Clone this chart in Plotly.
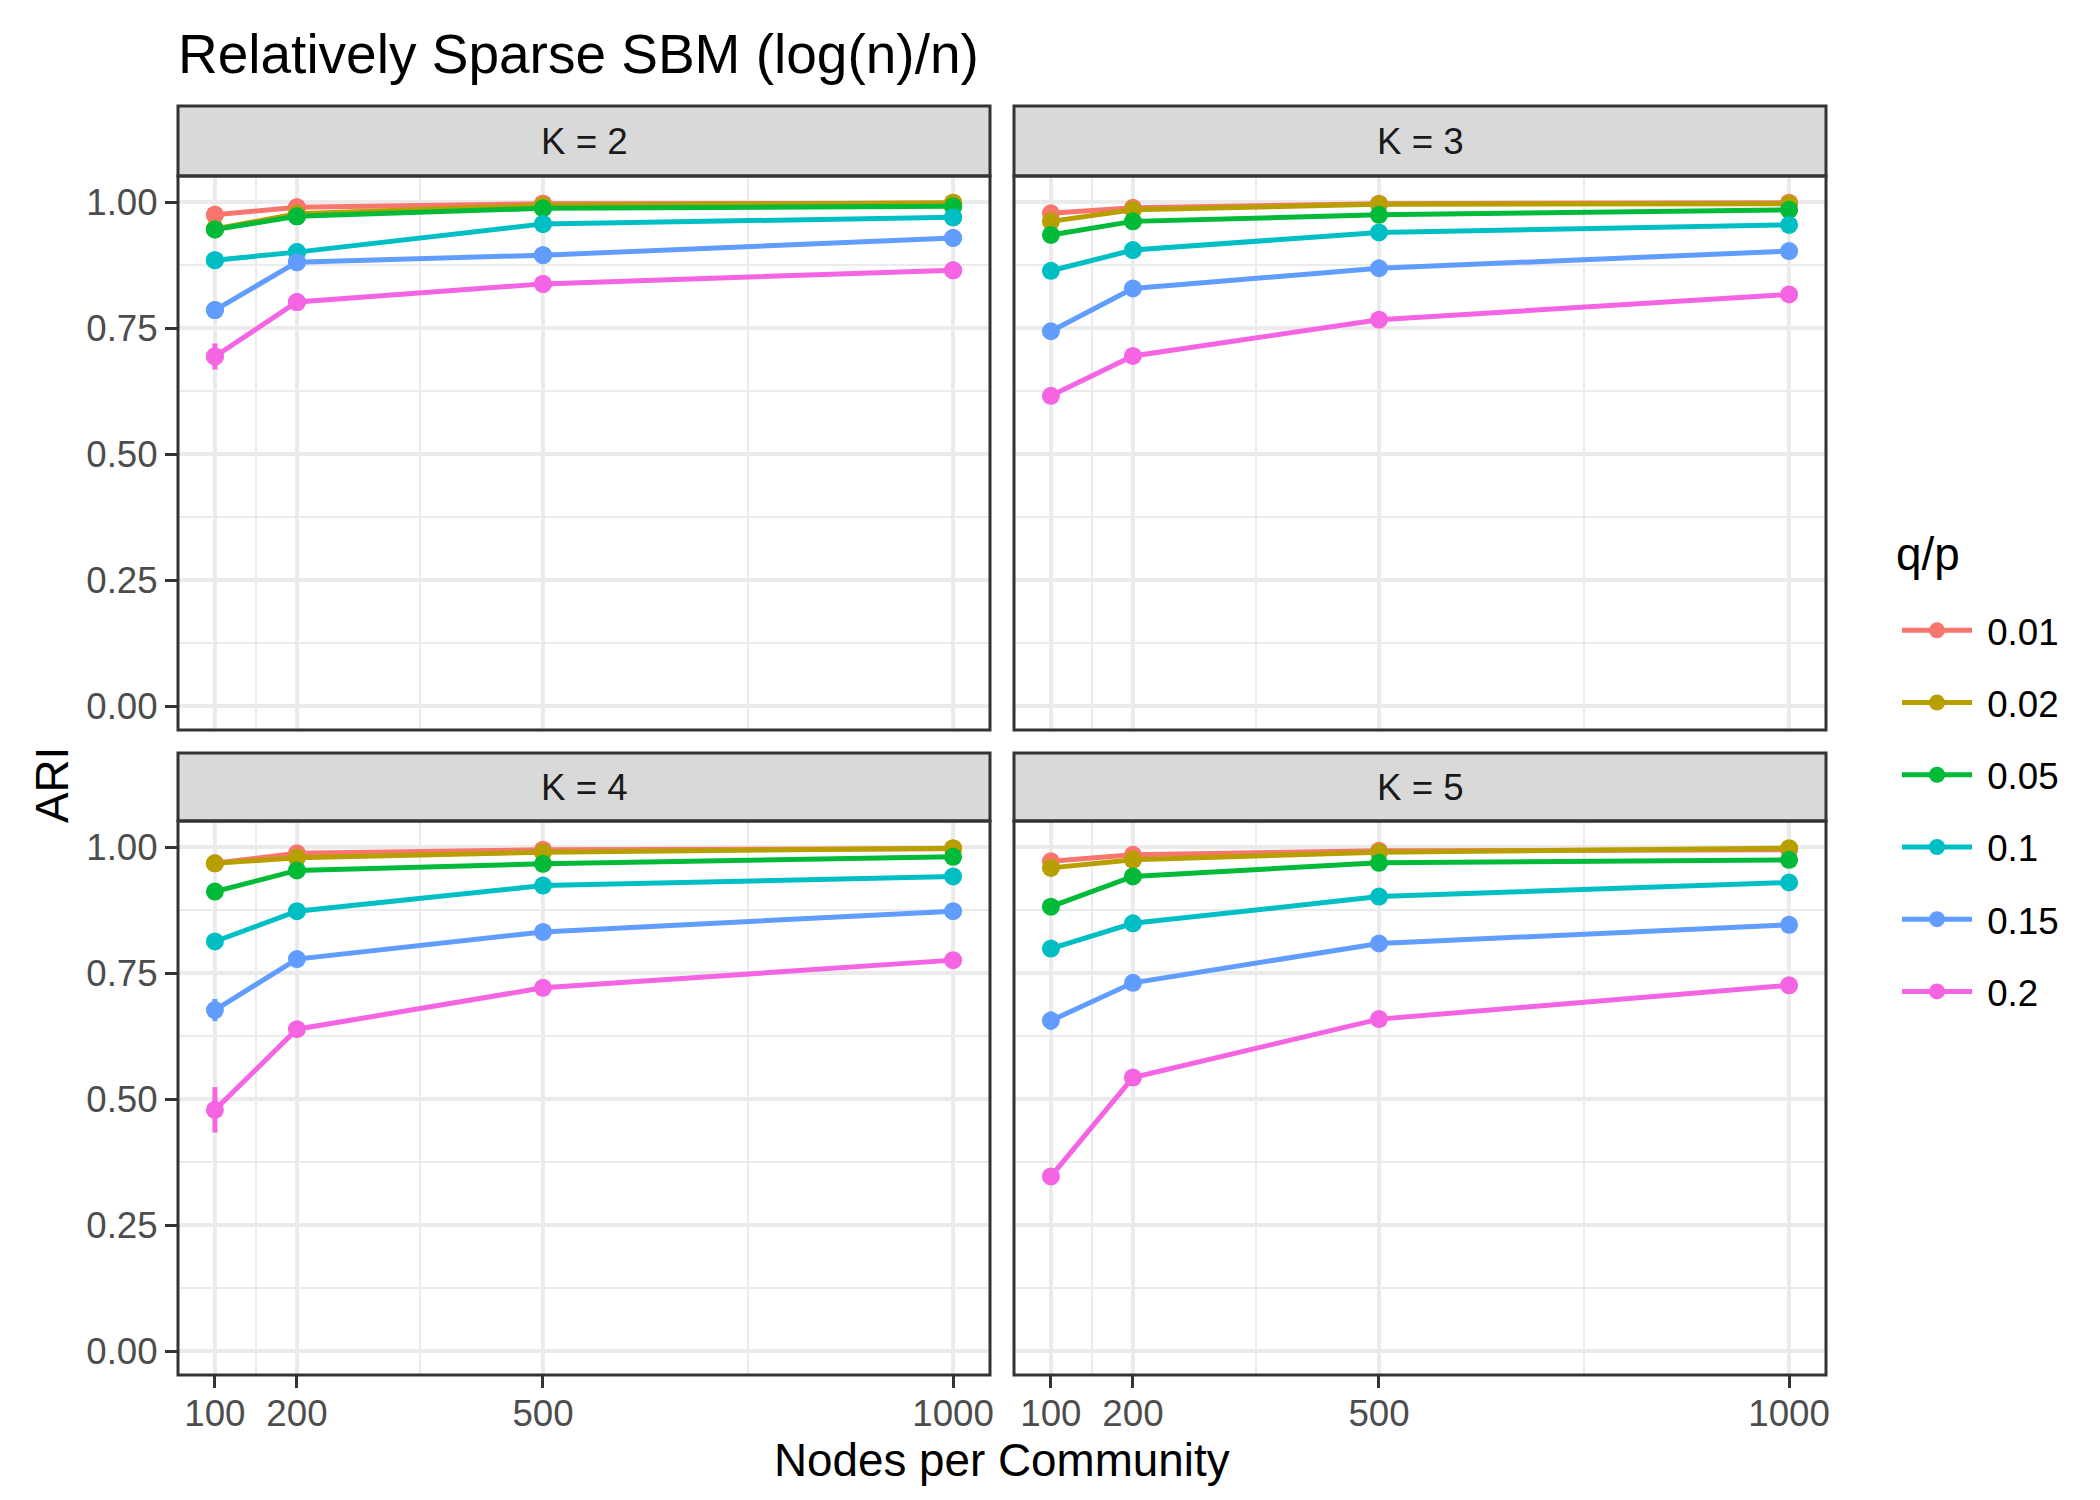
import plotly.graph_objects as go

# ---------------- data ----------------
nodes = [100, 200, 500, 1000]
q_levels = ["0.01", "0.02", "0.05", "0.1", "0.15", "0.2"]
q_colors = ["#F8766D", "#B79F00", "#00BA38", "#00BFC4", "#619CFF", "#F564E3"]
panel_labels = ["K = 2", "K = 3", "K = 4", "K = 5"]
x_ticks = [100, 200, 500, 1000]
x_minor = [150, 350, 750]
y_ticks = [0.0, 0.25, 0.5, 0.75, 1.0]
y_minor = [0.125, 0.375, 0.625, 0.875]

# rows follow q_levels, columns follow nodes
ari_k2 = [
    [0.975, 0.990, 0.997, 0.998],
    [0.947, 0.977, 0.994, 0.999],
    [0.946, 0.972, 0.988, 0.992],
    [0.885, 0.901, 0.957, 0.970],
    [0.786, 0.881, 0.895, 0.929],
    [0.694, 0.802, 0.838, 0.865],
]
ari_k3 = [
    [0.978, 0.989, 0.997, 0.999],
    [0.962, 0.985, 0.996, 0.997],
    [0.935, 0.962, 0.975, 0.985],
    [0.864, 0.905, 0.940, 0.955],
    [0.744, 0.829, 0.869, 0.903],
    [0.616, 0.695, 0.767, 0.817],
]
ari_k4 = [
    [0.968, 0.988, 0.995, 0.997],
    [0.968, 0.979, 0.990, 0.998],
    [0.912, 0.954, 0.967, 0.981],
    [0.813, 0.873, 0.924, 0.942],
    [0.677, 0.778, 0.832, 0.873],
    [0.479, 0.639, 0.721, 0.776],
]
ari_k5 = [
    [0.972, 0.985, 0.993, 0.995],
    [0.959, 0.975, 0.990, 0.998],
    [0.882, 0.942, 0.969, 0.975],
    [0.799, 0.849, 0.902, 0.930],
    [0.656, 0.731, 0.809, 0.846],
    [0.347, 0.543, 0.659, 0.726],
]
se_k2 = [
    [0.004, 0.002, 0.001, 0.001],
    [0.008, 0.003, 0.001, 0.001],
    [0.008, 0.003, 0.002, 0.001],
    [0.008, 0.005, 0.002, 0.002],
    [0.010, 0.006, 0.004, 0.003],
    [0.026, 0.008, 0.005, 0.004],
]
se_k3 = [
    [0.004, 0.002, 0.001, 0.001],
    [0.006, 0.003, 0.001, 0.001],
    [0.006, 0.003, 0.002, 0.001],
    [0.008, 0.004, 0.002, 0.002],
    [0.010, 0.006, 0.004, 0.003],
    [0.012, 0.008, 0.005, 0.004],
]
se_k4 = [
    [0.004, 0.002, 0.001, 0.001],
    [0.006, 0.003, 0.001, 0.001],
    [0.008, 0.004, 0.002, 0.001],
    [0.010, 0.005, 0.003, 0.002],
    [0.022, 0.008, 0.004, 0.003],
    [0.045, 0.012, 0.006, 0.004],
]
se_k5 = [
    [0.004, 0.002, 0.001, 0.001],
    [0.006, 0.003, 0.001, 0.001],
    [0.008, 0.004, 0.002, 0.001],
    [0.010, 0.005, 0.003, 0.002],
    [0.018, 0.008, 0.004, 0.003],
    [0.010, 0.010, 0.006, 0.004],
]
panel_values = [ari_k2, ari_k3, ari_k4, ari_k5]
panel_errors = [se_k2, se_k3, se_k4, se_k5]

# ---------------- geometry (pixels) ----------------
W, H = 2100, 1500
PL, PR, PT, PB = 170, 1818, 98, 1367


def fx(p):
    return (p - PL) / (PR - PL)


def fy(p):
    return (PB - p) / (PB - PT)


col_px = [(170, 982), (1006, 1818)]
row_px = [(168, 722), (813, 1367)]      # plot area top/bottom
strip_px = [(98, 168), (745, 813)]       # strip top/bottom

FONT = "Liberation Sans, Arial, Helvetica, sans-serif"
GRID = "#EBEBEB"
DARK = "#333333"
NBSP = "\u00a0"

fig = go.Figure()

axis_names = [("x", "y"), ("x2", "y2"), ("x3", "y3"), ("x4", "y4")]

for pi in range(4):
    xa, ya = axis_names[pi]
    vals = panel_values[pi]
    errs = panel_errors[pi]
    # lines first
    for qi, q in enumerate(q_levels):
        fig.add_trace(go.Scatter(
            x=nodes, y=vals[qi], xaxis=xa, yaxis=ya,
            mode="lines+markers" if pi == 0 else "lines",
            line=dict(color=q_colors[qi], width=5),
            marker=dict(color=q_colors[qi], size=18),
            name=NBSP + q, legendgroup=q, showlegend=(pi == 0),
            hoverinfo="skip",
        ))
    # points with error bars on top
    for qi, q in enumerate(q_levels):
        fig.add_trace(go.Scatter(
            x=nodes, y=vals[qi], xaxis=xa, yaxis=ya,
            mode="markers",
            marker=dict(color=q_colors[qi], size=18),
            error_y=dict(type="data", array=errs[qi], visible=True,
                         color=q_colors[qi], thickness=5, width=0),
            name=q, legendgroup=q, showlegend=False,
        ))

layout_axes = {}
for pi in range(4):
    r, c = divmod(pi, 2)
    xkey = "xaxis" if pi == 0 else f"xaxis{pi+1}"
    ykey = "yaxis" if pi == 0 else f"yaxis{pi+1}"
    xa, ya = axis_names[pi]
    bottom = (r == 1)
    left = (c == 0)
    layout_axes[xkey] = dict(
        domain=[fx(col_px[c][0]), fx(col_px[c][1])],
        anchor=ya, range=[55, 1045],
        tickvals=x_ticks, ticktext=[str(v) for v in x_ticks],
        showticklabels=bottom, ticklabelstandoff=-6,
        ticks="outside" if bottom else "", ticklen=12, tickwidth=3, tickcolor=DARK,
        tickfont=dict(size=36.7, color="#4D4D4D", family=FONT),
        showgrid=True, gridcolor=GRID, gridwidth=3.5,
        minor=dict(tickvals=x_minor, showgrid=True, gridcolor=GRID, gridwidth=1.8, ticks=""),
        zeroline=False, showline=False, fixedrange=True,
    )
    layout_axes[ykey] = dict(
        domain=[fy(row_px[r][1]), fy(row_px[r][0])],
        anchor=xa, range=[-0.047, 1.052],
        tickvals=y_ticks, ticktext=[f"{v:.2f}" for v in y_ticks],
        showticklabels=left,
        ticks="outside" if left else "", ticklen=12, tickwidth=3, tickcolor=DARK,
        tickfont=dict(size=36.7, color="#4D4D4D", family=FONT),
        showgrid=True, gridcolor=GRID, gridwidth=3.5,
        minor=dict(tickvals=y_minor, showgrid=True, gridcolor=GRID, gridwidth=1.8, ticks=""),
        zeroline=False, showline=False, fixedrange=True,
    )

shapes = []
annotations = []
for pi in range(4):
    r, c = divmod(pi, 2)
    x0, x1 = fx(col_px[c][0]), fx(col_px[c][1])
    # strip
    shapes.append(dict(type="rect", xref="paper", yref="paper",
                       x0=x0, x1=x1, y0=fy(strip_px[r][1]), y1=fy(strip_px[r][0]),
                       fillcolor="#D9D9D9", line=dict(color=DARK, width=3), layer="above"))
    # panel border
    shapes.append(dict(type="rect", xref="paper", yref="paper",
                       x0=x0, x1=x1, y0=fy(row_px[r][1]), y1=fy(row_px[r][0]),
                       fillcolor="rgba(0,0,0,0)", line=dict(color=DARK, width=3), layer="above"))
    annotations.append(dict(text=panel_labels[pi], xref="paper", yref="paper",
                            x=(x0 + x1) / 2, y=fy((strip_px[r][0] + strip_px[r][1]) / 2),
                            xanchor="center", yanchor="middle", showarrow=False,
                            font=dict(size=36.7, color="#1A1A1A", family=FONT)))

annotations.append(dict(text="Relatively Sparse SBM (log(n)/n)", xref="paper", yref="paper",
                        x=fx(168), y=fy(46), xanchor="left", yanchor="middle", showarrow=False,
                        font=dict(size=55, color="black", family=FONT)))
annotations.append(dict(text="Nodes per Community", xref="paper", yref="paper",
                        x=fx(994), y=fy(1452), xanchor="center", yanchor="middle", showarrow=False,
                        font=dict(size=45.8, color="black", family=FONT)))
annotations.append(dict(text="ARI", xref="paper", yref="paper",
                        x=fx(44), y=fy(777), xanchor="center", yanchor="middle", showarrow=False,
                        textangle=-90,
                        font=dict(size=45.8, color="black", family=FONT)))
annotations.append(dict(text="q/p", xref="paper", yref="paper",
                        x=fx(1886), y=fy(546), xanchor="left", yanchor="middle", showarrow=False,
                        font=dict(size=45.8, color="black", family=FONT)))

fig.update_layout(
    width=W, height=H, autosize=False,
    margin=dict(l=PL, r=W - PR, t=PT, b=H - PB, pad=0),
    paper_bgcolor="white", plot_bgcolor="white",
    font=dict(family=FONT, color="black"),
    shapes=shapes, annotations=annotations,
    legend=dict(
        font=dict(size=36.7, color="black", family=FONT),
        x=fx(1889), y=fy(592), xanchor="left", yanchor="top",
        tracegroupgap=21.5, itemwidth=70, bgcolor="rgba(0,0,0,0)",
    ),
    **layout_axes,
)

fig.write_html("out.html")
